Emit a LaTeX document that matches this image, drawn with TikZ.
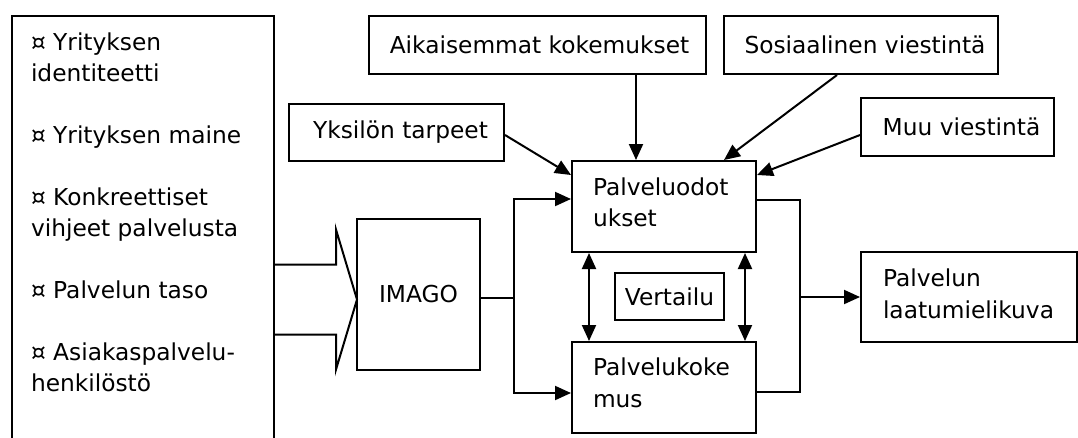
\documentclass[tikz,border=0pt]{standalone}
\usepackage{fontspec}
\setmainfont{DejaVu Sans}
\usetikzlibrary{arrows.meta,calc}
\begin{document}
\begin{tikzpicture}[x=1pt,y=-1pt,line width=2pt,
  box/.style={draw,line width=2pt,inner sep=0pt,anchor=north west,font=\fontsize{23.3}{31}\selectfont},
  txt/.style={font=\fontsize{23.3}{31}\selectfont,inner sep=0pt,anchor=base west},
  arr/.style={-{Triangle[length=16pt,width=14pt]},line width=2pt},
  darr/.style={{Triangle[length=16pt,width=14pt]}-{Triangle[length=16pt,width=14pt]},line width=2pt}]
\useasboundingbox (0,0) rectangle (1078,437);
\clip (0,0) rectangle (1078,437);
% boxes
\node[box,minimum width=262pt,minimum height=460pt] (left) at (10.5,14.5) {};
\node[box,minimum width=337pt,minimum height=58pt] (aik) at (368,15) {\hspace*{4pt}Aikaisemmat kokemukset};
\node[box,minimum width=274pt,minimum height=58pt] (sos) at (723,15) {\hspace*{8pt}Sosiaalinen viestintä};
\node[box,minimum width=215pt,minimum height=57pt] (yks) at (288,103) {\hspace*{8pt}Yksilön tarpeet};
\node[box,minimum width=193pt,minimum height=58pt] (muu) at (860,97) {\hspace*{8pt}Muu viestintä};
\node[box,minimum width=184pt,minimum height=91pt] (po) at (571,160) {};
\node[box,minimum width=184pt,minimum height=91pt] (pk) at (571,341) {};
\node[box,minimum width=109pt,minimum height=47pt] (ver) at (614,272) {Vertailu};
\node[box,minimum width=123pt,minimum height=151pt] (imago) at (356,218) {IMAGO};
\node[box,minimum width=216pt,minimum height=90pt] (pl) at (860,251) {};
% texts in left box
\node[txt] (l1) at (30,50) {¤ Yrityksen};
\node[txt] (l2) at (30,81) {identiteetti};
\node[txt] (l3) at (30,143) {¤ Yrityksen maine};
\node[txt] (l4) at (30,205) {¤ Konkreettiset};
\node[txt] (l5) at (30,236) {vihjeet palvelusta};
\node[txt] (l6) at (30,298) {¤ Palvelun taso};
\node[txt] (l7) at (30,360) {¤ Asiakaspalvelu-};
\node[txt] (l8) at (30,391) {henkilöstö};
% texts in other boxes
\node[txt] (po1) at (592,195) {Palveluodot};
\node[txt] (po2) at (592,226) {ukset};
\node[txt] (pk1) at (592,375) {Palvelukoke};
\node[txt] (pk2) at (592,407) {mus};
\node[txt] (pl1) at (882,286) {Palvelun};
\node[txt] (pl2) at (882,318) {laatumielikuva};
% big arrow
\coordinate (tip) at ($(imago.west)+(1,5)$);
\draw[line join=miter] ($(tip)+(-84,-35)$) -- ($(tip)+(-21,-35)$) -- ($(tip)+(-21,-70)$) -- (tip)
  -- ($(tip)+(-21,70)$) -- ($(tip)+(-21,35)$) -- ($(tip)+(-84,35)$);
% influences into expectations
\draw[arr] ($(yks.south east)+(0,-27)$) -- ($(po.north west)+(0,15)$);
\coordinate (a1) at ($(po.north west)+(65,0)$);
\draw[arr] (aik.south -| a1) -- (a1);
\draw[arr] ($(sos.south west)+(114,0)$) -- ($(po.north west)+(153,0)$);
\draw[arr] ($(muu.south west)+(0,-22)$) -- ($(po.north east)+(0,15)$);
% imago to expectations / experience
\coordinate (j1) at ($(imago.east)+(33,3)$);
\draw ($(imago.east)+(0,3)$) -- (j1);
\draw[arr] (j1) |- ($(po.north west)+(0,39)$);
\draw[arr] (j1) |- ($(pk.north west)+(0,52)$);
% comparison arrows
\draw[darr] ($(po.south west)+(18,0)$) -- ($(pk.north west)+(18,0)$);
\draw[darr] ($(po.south east)+(-12,0)$) -- ($(pk.north east)+(-12,0)$);
% to quality image
\coordinate (j2) at ($(po.north east)+(43,40)$);
\draw ($(po.north east)+(0,40)$) -- (j2) |- ($(pk.north east)+(0,51)$);
\draw[arr] (pl.west -| j2) -- (pl.west);
\end{tikzpicture}
\end{document}
